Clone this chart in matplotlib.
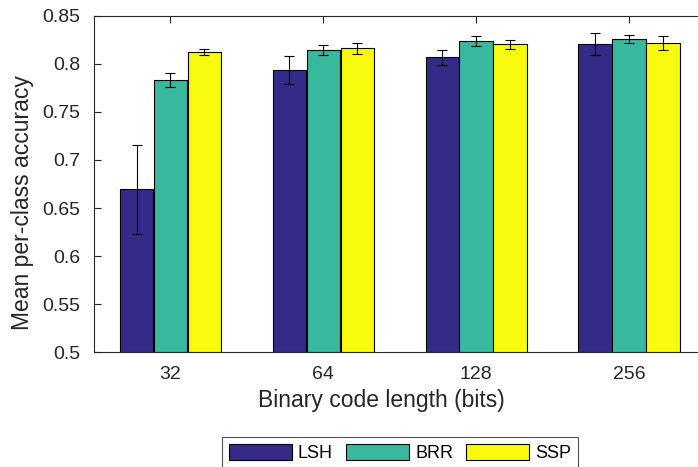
import numpy as np
import matplotlib
matplotlib.use('Agg')
import matplotlib.pyplot as plt

plt.rcParams['font.family'] = ['Liberation Sans', 'DejaVu Sans']

code_lengths = ['32', '64', '128', '256']
methods = ['LSH', 'BRR', 'SSP']

lsh_mean = [0.6695, 0.7934, 0.8066, 0.8205]
lsh_err  = [0.0465, 0.0144, 0.0080, 0.0113]
brr_mean = [0.7830, 0.8143, 0.8236, 0.8262]
brr_err  = [0.0073, 0.0049, 0.0055, 0.0042]
ssp_mean = [0.8122, 0.8160, 0.8205, 0.8215]
ssp_err  = [0.0032, 0.0061, 0.0047, 0.0070]

colors = ['#352a87', '#38b89c', '#f8fa0d']
axcol = '#262626'

fig = plt.figure(figsize=(6.98, 4.67), dpi=100)
ax = fig.add_axes([0.1347, 0.2456, 0.8763, 0.7208])

x = np.arange(1, len(code_lengths) + 1)
width = 0.22
offsets = [-0.222, 0.0, 0.222]
means = [lsh_mean, brr_mean, ssp_mean]
errs = [lsh_err, brr_err, ssp_err]

for i in range(3):
    ax.bar(x + offsets[i], means[i], width, color=colors[i], edgecolor='black',
           linewidth=0.8, label=methods[i], zorder=2)
    ax.errorbar(x + offsets[i], means[i], yerr=errs[i], fmt='none', ecolor='black',
                elinewidth=0.8, capsize=3.3, capthick=0.8, zorder=3)

ax.set_xlim(0.5, 4.5)
ax.set_ylim(0.5, 0.85)
ax.set_xticks(x)
ax.set_xticklabels(code_lengths)
ax.set_yticks(np.arange(0.5, 0.851, 0.05))
ax.set_yticklabels(['0.5', '0.55', '0.6', '0.65', '0.7', '0.75', '0.8', '0.85'])
ax.tick_params(direction='in', length=5, width=0.8, top=True, right=True,
               labelsize=14, colors=axcol, pad=10)
for s in ax.spines.values():
    s.set_color(axcol)
    s.set_linewidth(0.8)

ax.set_xlabel('Binary code length (bits)', fontsize=16.5, color=axcol, labelpad=4)
ax.set_ylabel('Mean per-class accuracy', fontsize=16.5, color=axcol, labelpad=6)
ax.xaxis.label.set_x(0.469)
ax.yaxis.label.set_y(0.445)

leg = ax.legend(loc='upper center', bbox_to_anchor=(400 / 698, 1 - 437 / 467),
                bbox_transform=fig.transFigure, ncol=3, fontsize=13,
                frameon=True, fancybox=False, handlelength=3.5, handleheight=1.0,
                handletextpad=0.33, columnspacing=0.72, borderpad=0.4,
                borderaxespad=0)
leg.get_frame().set_edgecolor(axcol)
leg.get_frame().set_linewidth(0.8)

fig.savefig('out.png', dpi=100)
